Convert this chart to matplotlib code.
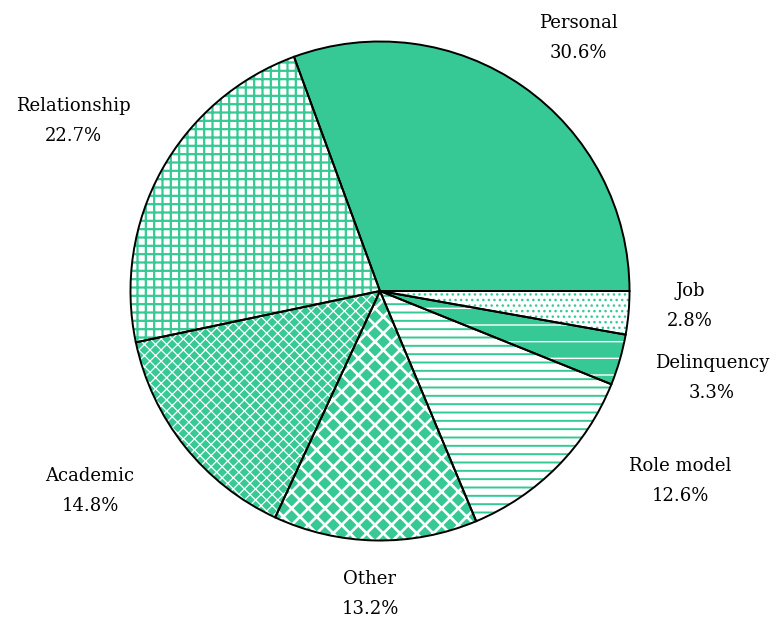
import matplotlib
matplotlib.use("Agg")
import matplotlib.pyplot as plt

categories = ["Personal", "Relationship", "Academic", "Other", "Role model", "Delinquency", "Job"]
shares = [30.6, 22.7, 14.8, 13.2, 12.6, 3.3, 2.8]

GREEN = "#36C995"
# (face colour, hatch, hatch colour, hatch line width) per slice
styles = [
    (GREEN, None, GREEN, 1.0),
    ("white", "++", GREEN, 1.6),
    (GREEN, "xxx", "white", 0.9),
    (GREEN, "xx", "white", 1.9),
    ("white", "--", GREEN, 1.4),
    (GREEN, "-", "white", 1.0),
    ("white", "...", GREEN, 1.0),
]
# label centres in figure pixels (from top-left)
label_pos = [(578, 38), (73, 121), (90, 491), (370, 594), (680, 481), (712, 378), (690, 306)]

W, H = 776, 619
fig = plt.figure(figsize=(W / 100, H / 100), dpi=100)
cx, cy, r = 380, 291, 252
ax = fig.add_axes([(cx - r) / W, (H - cy - r) / H, 2 * r / W, 2 * r / H])
ax.axis("off")

# hatched fill pass
wedges, _ = ax.pie(shares, startangle=0, counterclock=True, radius=1,
                   wedgeprops=dict(linewidth=0))
for w, (fc, hatch, hc, hlw) in zip(wedges, styles):
    w.set_facecolor(fc)
    w.set_edgecolor(hc)
    w.set_linewidth(0)
    if hasattr(w, "set_hatch_linewidth"):
        w.set_hatch_linewidth(hlw)
    else:
        w._hatch_linewidth = hlw
    if hatch:
        w.set_hatch(hatch)

# black outline pass
ax.pie(shares, startangle=0, counterclock=True, radius=1,
       wedgeprops=dict(facecolor="none", edgecolor="black", linewidth=1.4))
ax.set_xlim(-1.01, 1.01)
ax.set_ylim(-1.01, 1.01)

for name, val, (px, py) in zip(categories, shares, label_pos):
    fig.text(px / W, 1 - py / H, f"{name}\n{val:.1f}%", ha="center", va="center",
             fontsize=13, family="DejaVu Serif", linespacing=1.8)

fig.savefig("out.png", dpi=100, facecolor="white")
